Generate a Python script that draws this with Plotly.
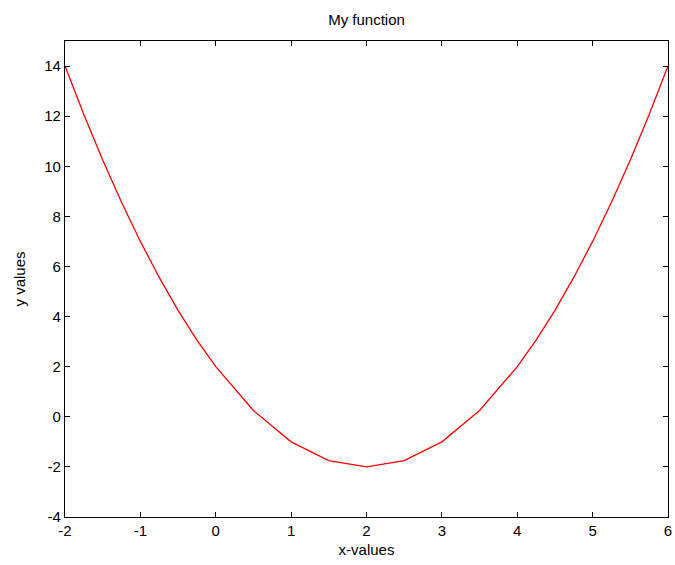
import plotly.graph_objects as go

x_vals = [-2, -1.75, -1.5, -1.25, -1, -0.75, -0.5, -0.25, 0, 0.5, 1, 1.5, 2,
          2.5, 3, 3.5, 4, 4.25, 4.5, 4.75, 5, 5.25, 5.5, 5.75, 6]
y_vals = [14, 12.0625, 10.25, 8.5625, 7, 5.5625, 4.25, 3.0625, 2, 0.25, -1, -1.75, -2,
          -1.75, -1, 0.25, 2, 3.0625, 4.25, 5.5625, 7, 8.5625, 10.25, 12.0625, 14]
x_ticks = [-2, -1, 0, 1, 2, 3, 4, 5, 6]
y_ticks = [-4, -2, 0, 2, 4, 6, 8, 10, 12, 14]

font_family = "Liberation Sans, Arial"
W, H = 675, 565

fig = go.Figure()
fig.add_trace(go.Scatter(x=x_vals, y=y_vals, mode="lines",
                         line=dict(color="#ff0000", width=1.3), showlegend=False,
                         cliponaxis=False))

axis_common = dict(showgrid=False, zeroline=False, showline=True, linecolor="black",
                   linewidth=1.3, mirror="ticks", ticks="inside", ticklen=5,
                   tickcolor="black", tickwidth=1, automargin=False,
                   ticklabeloverflow="allow",
                   tickfont=dict(family=font_family, size=15, color="black"))

fig.update_layout(
    width=W, height=H,
    margin=dict(l=65, r=7, t=41, b=48, autoexpand=False),
    paper_bgcolor="white", plot_bgcolor="white",
    title=dict(text="My function", x=(65 + 668) / 2 / W, xanchor="center",
               y=1 - 20 / H, yanchor="middle", yref="container",
               font=dict(family=font_family, size=15, color="black"), automargin=False),
    xaxis=dict(range=[-2, 6], tickvals=x_ticks, ticktext=[str(v) for v in x_ticks],
               title=dict(text="x-values", standoff=6,
                          font=dict(family=font_family, size=15, color="black")),
               **axis_common),
    yaxis=dict(range=[-4, 15], tickvals=y_ticks, ticktext=[str(v) for v in y_ticks],
               title=dict(text="y values", standoff=14,
                          font=dict(family=font_family, size=15, color="black")),
               **axis_common),
)

fig.write_html(
    "out.html",
    config={"displayModeBar": False},
    post_script="document.body.style.margin='0';document.body.style.overflow='hidden';",
)
